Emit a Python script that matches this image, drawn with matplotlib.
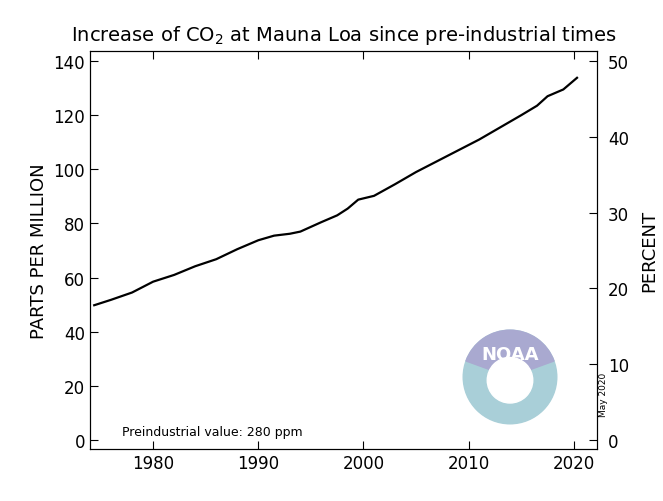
import matplotlib
matplotlib.use("Agg")
import matplotlib.pyplot as plt
from matplotlib.patches import Circle, Wedge

# increase above 280 ppm
years = [1974.4, 1976, 1978, 1980, 1982, 1984, 1986, 1988, 1990, 1991.5, 1993, 1994,
         1996, 1997.5, 1998.5, 1999.5, 2001, 2003, 2005, 2007, 2009, 2011, 2013,
         2015, 2016.5, 2017.5, 2019, 2020.3]
ppm = [49.8, 51.8, 54.5, 58.5, 61.0, 64.2, 66.8, 70.5, 73.8, 75.5, 76.2, 77.0,
       80.5, 83.0, 85.5, 88.8, 90.2, 94.5, 99.0, 103.0, 107.0, 111.0, 115.5,
       120.0, 123.5, 127.0, 129.5, 133.8]

fig = plt.figure(figsize=(6.63, 5.02), dpi=100)
ax = fig.add_axes([90/663, 52/502, 507/663, 398/502])
ax.plot(years, ppm, color="black", linewidth=1.6)
ax.set_xlim(1974, 2022.2)
ax.set_ylim(-3.3, 143.7)
ax.set_xticks([1980, 1990, 2000, 2010, 2020])
ax.set_yticks(range(0, 141, 20))
ax.tick_params(labelsize=12, direction="in", length=6, top=True)
ax.set_ylabel("PARTS PER MILLION", fontsize=13)
ax.set_title("Increase of CO$_2$ at Mauna Loa since pre-industrial times", fontsize=14, pad=8)

ax2 = ax.twinx()
ax2.set_ylim(-3.3 / 2.8, 143.7 / 2.8)
ax2.set_yticks(range(0, 51, 10))
ax2.tick_params(labelsize=12, direction="in", length=6, pad=8)
ax2.set_ylabel("PERCENT", fontsize=13, labelpad=8)

ax.text(1977, 2, "Preindustrial value: 280 ppm", fontsize=9)
fig.text(603/663, (502 - 395)/502, "May 2020", rotation=90, fontsize=6.5, ha="center", va="center")

# rough NOAA logo
lax = fig.add_axes([440/663, (502 - 443)/502, 140/663, 130/502])
lax.set_xlim(-1, 1); lax.set_ylim(-1, 1); lax.set_aspect("equal"); lax.axis("off")
lax.add_patch(Circle((0, 0), 0.72, color="#a9cfd8"))
lax.add_patch(Wedge((0, 0), 0.72, 20, 160, color="#a9a9d0"))
lax.add_patch(Circle((0, -0.05), 0.35, color="white"))
lax.text(0, 0.35, "NOAA", color="white", fontsize=13, fontweight="bold", ha="center", va="center")

fig.savefig("out.png", dpi=100)
